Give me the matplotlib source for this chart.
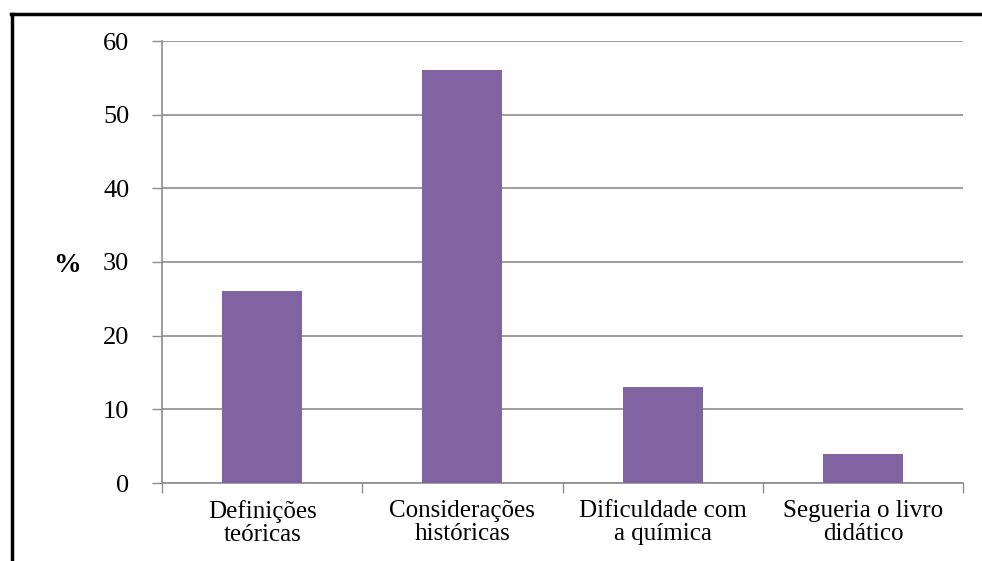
import matplotlib
matplotlib.use("Agg")
import matplotlib.pyplot as plt
from matplotlib.lines import Line2D

categories = ["Definições\nteóricas", "Considerações\nhistóricas",
              "Dificuldade com\na química", "Segueria o livro\ndidático"]
values = [26, 56, 13, 4]
yticks = [0, 10, 20, 30, 40, 50, 60]

plt.rcParams["font.family"] = ["Liberation Serif", "DejaVu Serif"]

fig = plt.figure(figsize=(9.82, 5.61), dpi=100)
W, H = 982, 561
ax = fig.add_axes([162 / W, 1 - 483 / H, (963 - 162) / W, (483 - 41) / H])

grid_c = "#8c8c8c"
x = list(range(len(categories)))
ax.bar(x, values, width=0.4, color="#8064A2", zorder=3)

ax.set_xlim(-0.5, len(categories) - 0.5)
ax.set_ylim(0, 60)
ax.set_yticks(yticks)
ax.set_yticklabels([str(v) for v in yticks], fontsize=19)
ax.yaxis.grid(True, color=grid_c, linewidth=1.2, zorder=0)
ax.tick_params(axis="y", length=7.5, width=1, color=grid_c, pad=16)

# category ticks sit on the boundaries between groups
ax.set_xticks([i - 0.5 for i in range(len(categories) + 1)])
ax.set_xticklabels([])
ax.set_xticks(x, minor=True)
ax.set_xticklabels(categories, minor=True, fontsize=18, linespacing=1.05)
ax.tick_params(axis="x", which="major", length=7, width=1, color=grid_c)
ax.tick_params(axis="x", which="minor", length=0, pad=12)

for s in ["top", "right"]:
    ax.spines[s].set_visible(False)
for s in ["left", "bottom"]:
    ax.spines[s].set_color(grid_c)
    ax.spines[s].set_linewidth(1.2)

fig.text(67 / W, 1 - 265 / H, "%", fontsize=20, fontweight="bold",
         ha="center", va="center")

# outer frame
fig.add_artist(Line2D([11.5 / W, 11.5 / W], [0, 1 - 13.5 / H], color="black",
                      linewidth=2.5, transform=fig.transFigure))
fig.add_artist(Line2D([10.5 / W, 1], [1 - 13.5 / H, 1 - 13.5 / H], color="black",
                      linewidth=2.5, transform=fig.transFigure))

fig.savefig("out.png", dpi=100)
